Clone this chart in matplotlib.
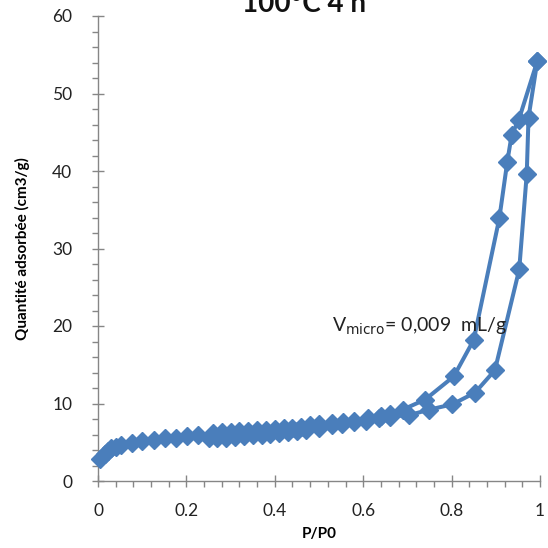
import numpy as np
import matplotlib
matplotlib.use("Agg")
import matplotlib.pyplot as plt
from matplotlib.ticker import MultipleLocator

plt.rcParams['font.family'] = ['Lato', 'DejaVu Sans']

# adsorption branch (lower curve in the hysteresis)
ads_p = [0.005, 0.015, 0.022, 0.030, 0.040, 0.052, 0.077, 0.100, 0.126, 0.151,
         0.177, 0.202, 0.226, 0.250, 0.270, 0.290, 0.310, 0.330, 0.350, 0.370,
         0.390, 0.410, 0.430, 0.450, 0.470, 0.500, 0.530, 0.553, 0.579, 0.606,
         0.636, 0.660, 0.704, 0.749, 0.802, 0.853, 0.898, 0.953, 0.970, 0.974,
         0.994]
ads_q = [2.8, 3.5, 3.9, 4.2, 4.4, 4.6, 4.9, 5.1, 5.3, 5.5,
         5.6, 5.8, 5.9, 5.6, 5.5, 5.6, 5.7, 5.8, 5.9, 6.0,
         6.1, 6.2, 6.3, 6.4, 6.6, 6.8, 7.2, 7.4, 7.6, 7.8,
         8.1, 8.3, 8.5, 9.2, 9.9, 11.4, 14.3, 27.3, 39.6, 46.9,
         54.2]

# desorption branch (upper curve)
des_p = [0.994, 0.952, 0.936, 0.926, 0.908, 0.850, 0.805, 0.740, 0.689, 0.660,
         0.640, 0.610, 0.580, 0.555, 0.530, 0.500, 0.480, 0.460, 0.440, 0.420,
         0.400, 0.380, 0.360, 0.340, 0.320, 0.300, 0.280, 0.260]
des_q = [54.2, 46.6, 44.7, 41.2, 33.9, 18.2, 13.5, 10.5, 9.2, 8.7,
         8.4, 8.1, 7.8, 7.6, 7.5, 7.3, 7.2, 7.0, 6.9, 6.8,
         6.7, 6.6, 6.6, 6.5, 6.4, 6.3, 6.3, 6.2]

blue = '#4A7EBB'
grey = '#868686'

fig = plt.figure(figsize=(5.48, 5.48), dpi=100)
ax = fig.add_axes([98 / 548, 1 - 481 / 548, 442 / 548, 465 / 548])

for p, q in [(ads_p, ads_q), (des_p, des_q)]:
    ax.plot(p, q, color=blue, lw=2.9, marker='D', ms=9, mec=blue, mfc=blue,
            clip_on=False, zorder=3)

ax.set_xlim(0, 1)
ax.set_ylim(0, 60)
ax.xaxis.set_major_locator(MultipleLocator(0.2))
ax.xaxis.set_minor_locator(MultipleLocator(0.04))
ax.yaxis.set_major_locator(MultipleLocator(10))
ax.yaxis.set_minor_locator(MultipleLocator(2))
ax.xaxis.set_major_formatter(plt.FuncFormatter(lambda v, _: f'{v:g}'))

for s in ['top', 'right']:
    ax.spines[s].set_visible(False)
for s in ['left', 'bottom']:
    ax.spines[s].set_color(grey)
    ax.spines[s].set_linewidth(1)

ax.tick_params(which='major', direction='inout', length=9, width=1, color=grey,
               labelsize=12.5, labelcolor='#222222')
ax.tick_params(which='minor', direction='out', length=4, width=1, color=grey)
ax.tick_params(axis='x', which='major', pad=11)
ax.tick_params(axis='y', which='major', pad=14)

ax.set_xlabel('P/P0', fontsize=11, fontweight='bold', labelpad=6)
ax.set_ylabel('Quantité adsorbée (cm3/g)', fontsize=11, fontweight='bold',
              labelpad=16)

ax.text(0.53, 20.0, r'V$_{\mathrm{micro}}$= 0,009  mL/g', fontsize=14,
        color='#222222', va='center', ha='left')

fig.text(0.555, 1 - 12 / 548, '100°C 4 h', fontsize=20, fontweight='bold',
         ha='center', va='baseline', color='#111111')

fig.savefig('out.png', dpi=100)
